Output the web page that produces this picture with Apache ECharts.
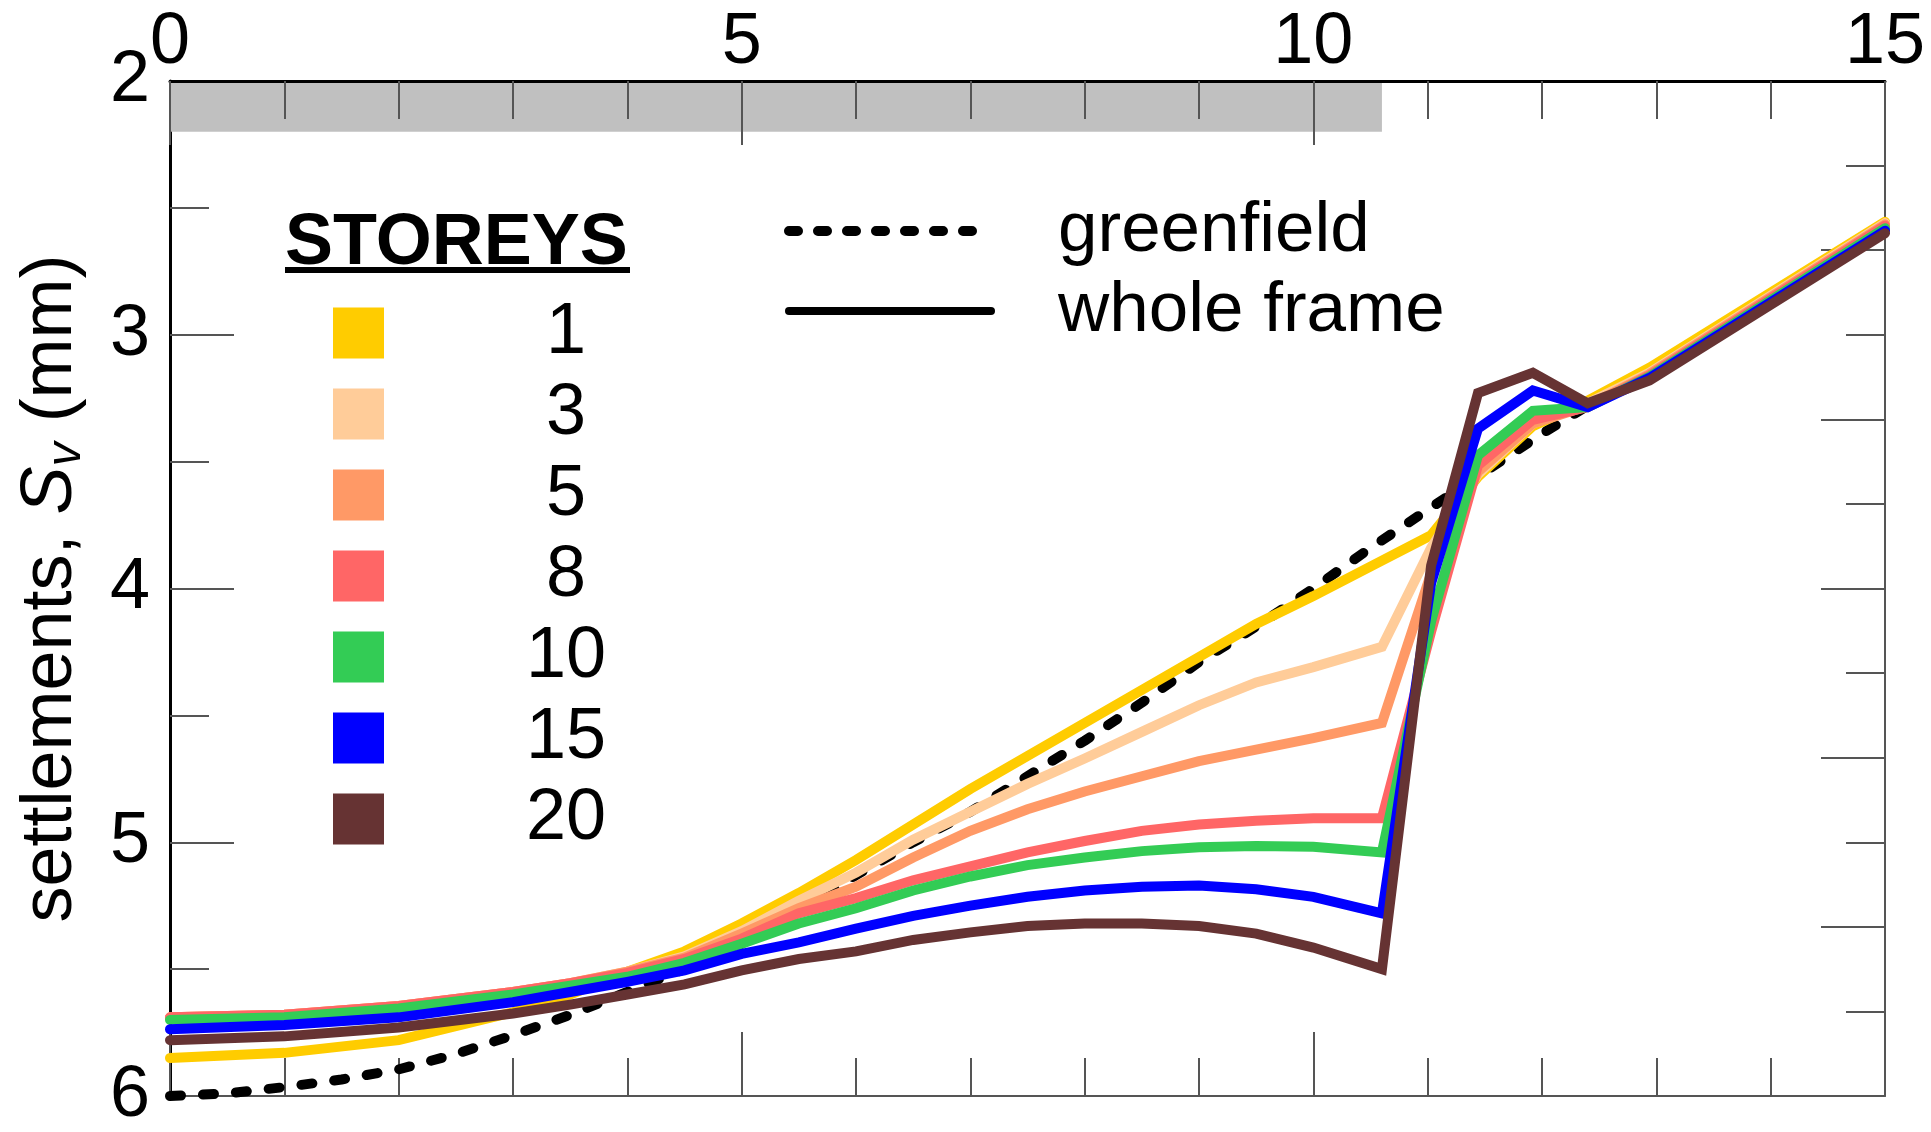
<!DOCTYPE html>
<html>
<head>
<meta charset="utf-8">
<script src="https://cdn.jsdelivr.net/npm/echarts@6/dist/echarts.min.js"></script>
<style>
  html, body { margin: 0; padding: 0; background: #ffffff; }
  #chart { width: 1931px; height: 1132px; }
</style>
</head>
<body>
<div id="chart"></div>
<script>
// Horizontal distance (x) and vertical settlement S_v (mm)
const storeys = ['1', '3', '5', '8', '10', '15', '20'];
const storeyColors = ['#FFCC00', '#FFCC99', '#FF9966', '#FF6666', '#33CC55', '#0000FF', '#663333'];

// sample positions shared by the whole-frame curves
const frameX = [0, 1, 2, 3, 3.5, 4, 4.5, 5, 5.5, 6, 6.5, 7, 7.5, 8, 8.5, 9, 9.5, 10, 10.6, 11.03, 11.44, 11.92, 12.4, 12.94, 15];

const sv1  = [5.85, 5.83, 5.78, 5.67, 5.60, 5.51, 5.43, 5.32, 5.20, 5.07, 4.93, 4.79, 4.66, 4.53, 4.40, 4.27, 4.14, 4.03, 3.89, 3.79, 3.56, 3.36, 3.26, 3.13, 2.555];
const sv3  = [5.69, 5.68, 5.645, 5.59, 5.555, 5.51, 5.45, 5.35, 5.23, 5.12, 4.99, 4.88, 4.77, 4.67, 4.565, 4.46, 4.37, 4.31, 4.23, 3.84, 3.55, 3.35, 3.27, 3.15, 2.56];
const sv5  = [5.69, 5.68, 5.645, 5.59, 5.555, 5.51, 5.455, 5.36, 5.26, 5.175, 5.06, 4.955, 4.87, 4.80, 4.74, 4.68, 4.635, 4.59, 4.53, 3.94, 3.54, 3.35, 3.28, 3.155, 2.565];
const sv8  = [5.69, 5.68, 5.645, 5.59, 5.555, 5.515, 5.46, 5.38, 5.28, 5.22, 5.15, 5.095, 5.04, 4.995, 4.955, 4.93, 4.915, 4.905, 4.905, 4.17, 3.515, 3.335, 3.285, 3.16, 2.57];
const sv10 = [5.70, 5.69, 5.655, 5.60, 5.565, 5.53, 5.475, 5.40, 5.32, 5.26, 5.19, 5.135, 5.09, 5.06, 5.035, 5.02, 5.015, 5.018, 5.04, 4.13, 3.475, 3.30, 3.285, 3.165, 2.58];
const sv15 = [5.737, 5.72, 5.69, 5.63, 5.59, 5.55, 5.505, 5.44, 5.395, 5.34, 5.29, 5.25, 5.215, 5.19, 5.175, 5.17, 5.185, 5.215, 5.28, 3.98, 3.37, 3.22, 3.285, 3.17, 2.59];
const sv20 = [5.78, 5.765, 5.73, 5.675, 5.64, 5.60, 5.56, 5.505, 5.46, 5.43, 5.385, 5.355, 5.33, 5.32, 5.32, 5.33, 5.36, 5.415, 5.50, 3.91, 3.23, 3.15, 3.27, 3.18, 2.60];
const frameSettlements = [sv1, sv3, sv5, sv8, sv10, sv15, sv20];

// greenfield settlement trough
const greenfieldX  = [0, 0.5, 1, 1.5, 2, 2.5, 3, 3.5, 4, 4.5, 5, 5.5, 6, 6.5, 7, 7.5, 8, 8.5, 9, 9.5, 10, 10.5, 11, 11.5, 12, 12.4, 12.94, 15];
const greenfieldSv = [6.0, 5.99, 5.965, 5.935, 5.895, 5.835, 5.76, 5.68, 5.59, 5.50, 5.40, 5.27, 5.13, 5.00, 4.88, 4.74, 4.60, 4.45, 4.29, 4.15, 4.00, 3.84, 3.69, 3.54, 3.39, 3.28, 3.14, 2.56];

// building footprint strip drawn along the top of the plot
const buildingX = [0, 10.6];
const buildingBand = [2, 2.2];

const FONT = '"Liberation Sans", Arial, Helvetica, sans-serif';

const chart = echarts.init(document.getElementById('chart'), null, { renderer: 'canvas' });

const tickStyle = { color: '#555555', width: 2 };

const series = [{
  type: 'line',
  name: 'greenfield',
  data: greenfieldX.map((x, i) => [x, greenfieldSv[i]]),
  symbol: 'none',
  z: 2,
  lineStyle: { color: '#000000', width: 10, type: [11, 22], cap: 'round' },
  markArea: {
    silent: true,
    itemStyle: { color: '#c0c0c0' },
    label: { show: false },
    data: [[{ coord: [buildingX[0], buildingBand[0]] }, { coord: [buildingX[1], buildingBand[1]] }]]
  }
}];

storeys.forEach((name, i) => {
  series.push({
    type: 'line',
    name: name,
    data: frameX.map((x, j) => [x, frameSettlements[i][j]]),
    symbol: 'none',
    z: 3 + i,
    itemStyle: { color: storeyColors[i] },
    lineStyle: { color: storeyColors[i], width: 10, cap: 'round', join: 'miter' }
  });
});

const option = {
  animation: false,
  backgroundColor: '#ffffff',
  textStyle: { fontFamily: FONT },
  grid: { left: 170, top: 81, right: 46, bottom: 29, containLabel: false },
  legend: {
    data: storeys,
    orient: 'vertical',
    left: 328,
    top: 292,
    icon: 'rect',
    itemWidth: 51,
    itemHeight: 51,
    itemGap: 9,
    selectedMode: false,
    itemStyle: { borderWidth: 0 },
    formatter: '{n|{name}}',
    textStyle: {
      color: '#000000',
      fontFamily: FONT,
      rich: { n: { fontSize: 72, lineHeight: 51, width: 354, align: 'center', color: '#000000', fontFamily: FONT } }
    }
  },
  xAxis: [{
    type: 'value',
    position: 'top',
    min: 0, max: 15, interval: 5,
    z: 10,
    axisLine: { show: true, onZero: false, lineStyle: { color: '#000000', width: 3 } },
    axisTick: { show: true, inside: true, length: 64, lineStyle: tickStyle },
    minorTick: { show: true, splitNumber: 5, length: 38, lineStyle: tickStyle },
    axisLabel: { show: true, fontSize: 72, color: '#000000', margin: 2, fontFamily: FONT },
    splitLine: { show: false }
  }, {
    type: 'value',
    position: 'bottom',
    min: 0, max: 15, interval: 5,
    axisLine: { show: true, onZero: false, lineStyle: { color: '#555555', width: 2 } },
    axisTick: { show: true, inside: true, length: 64, lineStyle: tickStyle },
    minorTick: { show: true, splitNumber: 5, length: 38, lineStyle: tickStyle },
    axisLabel: { show: false },
    splitLine: { show: false }
  }],
  yAxis: [{
    type: 'value',
    position: 'left',
    inverse: true,
    min: 2, max: 6, interval: 1,
    axisLine: { show: true, onZero: false, lineStyle: { color: '#000000', width: 3 } },
    axisTick: { show: true, inside: true, length: 64, lineStyle: tickStyle },
    minorTick: { show: true, splitNumber: 2, length: 39, lineStyle: tickStyle },
    axisLabel: { show: true, fontSize: 72, color: '#000000', margin: 20, fontFamily: FONT },
    splitLine: { show: false },
    name: '{a|settlements, }{s|S}{v|v}{a| (mm)}',
    nameLocation: 'middle',
    nameRotate: 90,
    nameGap: 79,
    nameTextStyle: {
      color: '#000000',
      fontFamily: FONT,
      rich: {
        a: { fontSize: 72, lineHeight: 80, verticalAlign: 'middle', color: '#000000', fontFamily: FONT },
        s: { fontSize: 72, lineHeight: 80, verticalAlign: 'middle', fontStyle: 'italic', color: '#000000', fontFamily: FONT },
        v: { fontSize: 48, lineHeight: 42, verticalAlign: 'bottom', fontStyle: 'italic', color: '#000000', fontFamily: FONT }
      }
    }
  }, {
    type: 'value',
    position: 'right',
    inverse: true,
    min: 0, max: 6, interval: 1,
    axisLine: { show: true, onZero: false, lineStyle: { color: '#555555', width: 2 } },
    axisTick: { show: true, inside: true, length: 64, lineStyle: tickStyle },
    minorTick: { show: true, splitNumber: 2, length: 39, lineStyle: tickStyle },
    axisLabel: { show: false },
    splitLine: { show: false }
  }],
  graphic: [
    {
      type: 'text', left: 285, top: 208, z: 20,
      style: { text: 'STOREYS', font: 'bold 72px ' + FONT, fill: '#000000' }
    },
    {
      type: 'rect', z: 20,
      shape: { x: 285, y: 267, width: 345, height: 6 },
      style: { fill: '#000000' }
    },
    {
      type: 'line', z: 20,
      shape: { x1: 789, y1: 231, x2: 991, y2: 231 },
      style: { stroke: '#000000', lineWidth: 10, lineDash: [9, 20], lineCap: 'round' }
    },
    {
      type: 'line', z: 20,
      shape: { x1: 789, y1: 311, x2: 991, y2: 311 },
      style: { stroke: '#000000', lineWidth: 8, lineCap: 'round' }
    },
    {
      type: 'text', z: 20, x: 1058, y: 231,
      style: { text: 'greenfield', font: '71px ' + FONT, fill: '#000000', verticalAlign: 'middle', align: 'left' }
    },
    {
      type: 'text', z: 20, x: 1058, y: 311,
      style: { text: 'whole frame', font: '71px ' + FONT, fill: '#000000', verticalAlign: 'middle', align: 'left' }
    }
  ],
  series: series
};

chart.setOption(option);
</script>
</body>
</html>
